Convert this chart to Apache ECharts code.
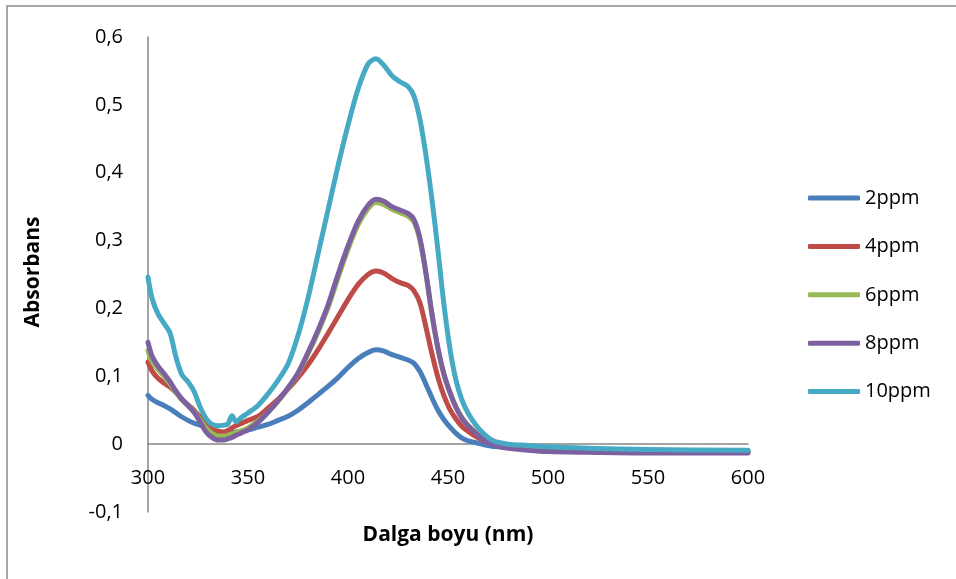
<!DOCTYPE html>
<html>
<head>
<meta charset="utf-8">
<script src="https://cdn.jsdelivr.net/npm/echarts@6/dist/echarts.min.js"></script>
<style>
  html, body { margin: 0; padding: 0; background: #fff; }
  #chart { width: 956px; height: 579px; }
</style>
</head>
<body>
<div id="chart"></div>
<script>
// wavelength (nm)
var wavelengths = [300, 302, 305, 308, 311, 314, 317, 320, 323, 326, 329, 332, 335, 338, 340, 342, 344, 347, 350,
  355, 360, 365, 370, 375, 380, 385, 390, 395, 400, 405, 410, 414, 418, 422, 426, 430, 433, 436, 439, 442,
  445, 448, 451, 454, 457, 460, 464, 468, 472, 476, 480, 490, 500, 520, 550, 600];

var ppm2 = [0.072, 0.066, 0.061, 0.057, 0.052, 0.046, 0.040, 0.035, 0.031, 0.028, 0.024, 0.019, 0.017, 0.016, 0.016, 0.017, 0.018, 0.019, 0.021,
  0.025, 0.029, 0.035, 0.041, 0.050, 0.061, 0.073, 0.085, 0.098, 0.113, 0.126, 0.135, 0.139, 0.137, 0.132, 0.128, 0.124, 0.119, 0.107, 0.088, 0.068,
  0.050, 0.036, 0.025, 0.016, 0.009, 0.005, 0.002, -0.001, -0.003, -0.004, -0.005, -0.007, -0.008, -0.009, -0.010, -0.010];

var ppm4 = [0.121, 0.108, 0.097, 0.090, 0.084, 0.076, 0.066, 0.058, 0.050, 0.040, 0.030, 0.022, 0.019, 0.018, 0.020, 0.024, 0.027, 0.031, 0.035,
  0.041, 0.053, 0.066, 0.081, 0.098, 0.117, 0.139, 0.163, 0.188, 0.213, 0.235, 0.250, 0.255, 0.252, 0.244, 0.238, 0.234, 0.226, 0.208, 0.172, 0.133,
  0.098, 0.071, 0.051, 0.037, 0.026, 0.019, 0.011, 0.005, 0.001, -0.002, -0.004, -0.006, -0.008, -0.009, -0.010, -0.010];

var ppm6 = [0.138, 0.122, 0.110, 0.100, 0.089, 0.076, 0.065, 0.057, 0.048, 0.036, 0.024, 0.016, 0.012, 0.012, 0.013, 0.015, 0.017, 0.020, 0.024,
  0.034, 0.047, 0.063, 0.082, 0.104, 0.133, 0.165, 0.201, 0.245, 0.287, 0.323, 0.347, 0.356, 0.353, 0.346, 0.341, 0.336, 0.327, 0.300, 0.250, 0.190,
  0.140, 0.102, 0.076, 0.055, 0.039, 0.028, 0.017, 0.008, 0.002, -0.002, -0.004, -0.007, -0.009, -0.010, -0.011, -0.011];

var ppm8 = [0.150, 0.130, 0.115, 0.104, 0.092, 0.078, 0.066, 0.057, 0.047, 0.033, 0.018, 0.010, 0.006, 0.006, 0.008, 0.010, 0.013, 0.017, 0.021,
  0.032, 0.047, 0.064, 0.083, 0.105, 0.135, 0.168, 0.205, 0.250, 0.292, 0.328, 0.352, 0.361, 0.358, 0.350, 0.345, 0.340, 0.331, 0.303, 0.252, 0.192,
  0.141, 0.103, 0.076, 0.054, 0.038, 0.027, 0.016, 0.006, 0.000, -0.004, -0.006, -0.009, -0.011, -0.012, -0.013, -0.013];

var ppm10 = [0.246, 0.215, 0.192, 0.178, 0.164, 0.128, 0.102, 0.092, 0.078, 0.055, 0.038, 0.029, 0.027, 0.028, 0.030, 0.042, 0.033, 0.040, 0.046,
  0.057, 0.074, 0.094, 0.118, 0.160, 0.215, 0.280, 0.345, 0.410, 0.470, 0.523, 0.560, 0.568, 0.558, 0.543, 0.534, 0.527, 0.513, 0.478, 0.425, 0.360,
  0.285, 0.205, 0.140, 0.094, 0.065, 0.046, 0.028, 0.015, 0.006, 0.002, 0.000, -0.002, -0.004, -0.006, -0.008, -0.009];

var seriesNames = ['2ppm', '4ppm', '6ppm', '8ppm', '10ppm'];
var seriesData = [ppm2, ppm4, ppm6, ppm8, ppm10];
var colors = ['#4A7EBB', '#BE4B48', '#98B954', '#7D60A0', '#46AAC5'];

var FONT = '"Open Sans", "Noto Sans", sans-serif';

function commaFmt(v) {
  var r = Math.round(v * 10) / 10;
  return String(r).replace('.', ',');
}

var myChart = echarts.init(document.getElementById('chart'));

var series = seriesNames.map(function (name, i) {
  return {
    name: name,
    type: 'line',
    showSymbol: false,
    smooth: 0.3,
    data: wavelengths.map(function (w, idx) { return [w, seriesData[i][idx]]; }),
    lineStyle: { width: 5, color: colors[i], cap: 'round', join: 'round' },
    itemStyle: { color: colors[i] },
    z: 2 + i
  };
});

var option = {
  animation: false,
  backgroundColor: '#fff',
  color: colors,
  grid: { left: 148, right: 208, top: 37, bottom: 67, containLabel: false },
  legend: {
    orient: 'vertical',
    left: 808,
    top: 187,
    padding: 0,
    itemWidth: 52,
    itemHeight: 5,
    itemGap: 26.4,
    icon: 'roundRect',
    data: seriesNames,
    textStyle: { fontFamily: FONT, fontSize: 20, color: '#000', lineHeight: 22 }
  },
  xAxis: {
    type: 'value',
    min: 300,
    max: 600,
    interval: 50,
    axisLine: { onZero: true, lineStyle: { color: '#868686', width: 1.5 } },
    axisTick: { show: false },
    splitLine: { show: false },
    axisLabel: { margin: -44, fontFamily: FONT, fontSize: 20, color: '#000' }
  },
  yAxis: {
    type: 'value',
    min: -0.1,
    max: 0.6,
    interval: 0.1,
    axisLine: { show: true, lineStyle: { color: '#868686', width: 1.5 } },
    axisTick: { show: false },
    splitLine: { show: false },
    axisLabel: { margin: 25, fontFamily: FONT, fontSize: 20, color: '#000', formatter: commaFmt }
  },
  graphic: [
    {
      type: 'rect',
      shape: { x: 7, y: 6, width: 1000, height: 1000 },
      style: { fill: 'none', stroke: '#8a8a8a', lineWidth: 1.5 },
      silent: true
    },
    {
      type: 'text',
      x: 448, y: 535,
      style: { text: 'Dalga boyu (nm)', fontFamily: FONT, fontSize: 21, fontWeight: 'bold', fill: '#000', align: 'center', verticalAlign: 'middle' }
    },
    {
      type: 'text',
      x: 33, y: 272,
      rotation: Math.PI / 2,
      style: { text: 'Absorbans', fontFamily: FONT, fontSize: 21, fontWeight: 'bold', fill: '#000', align: 'center', verticalAlign: 'middle' }
    }
  ],
  series: series
};

myChart.setOption(option);
</script>
</body>
</html>
